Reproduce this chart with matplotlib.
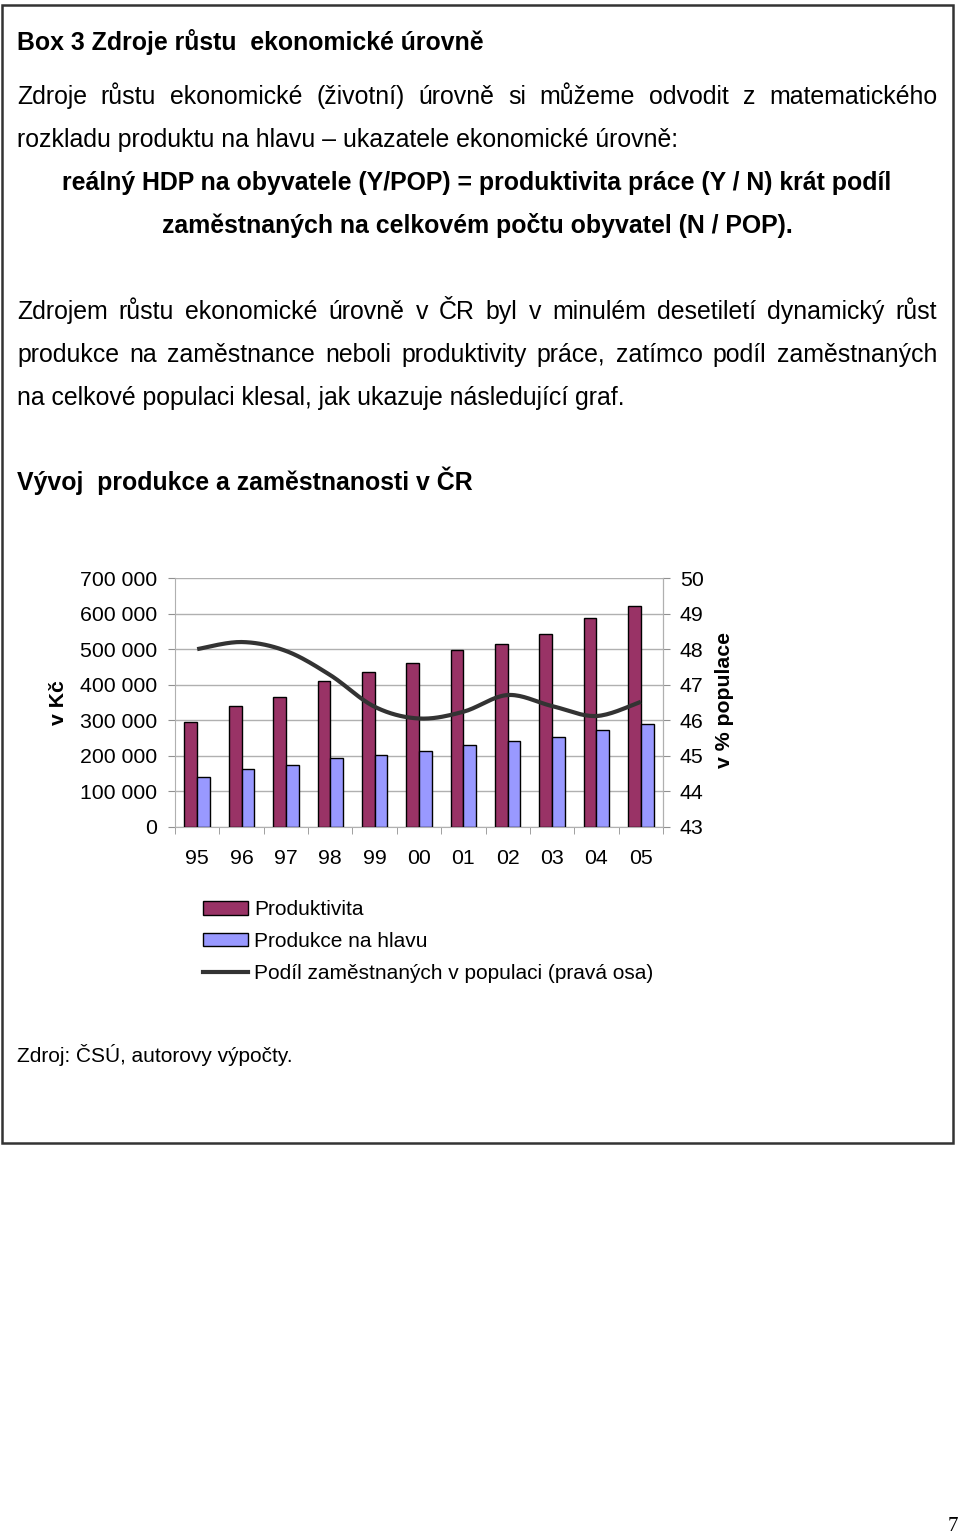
import numpy as np
import matplotlib
matplotlib.use('Agg')
import matplotlib.pyplot as plt
from matplotlib.patches import Rectangle, Patch
from matplotlib.lines import Line2D

plt.rcParams['font.family'] = ['Liberation Sans', 'DejaVu Sans']

# data
years = ['95', '96', '97', '98', '99', '00', '01', '02', '03', '04', '05']
produktivita = [295000, 339000, 366000, 410000, 435000, 460000, 497000, 515000, 543000, 588000, 622000]
produkce_na_hlavu = [141000, 162000, 175000, 194000, 202000, 213000, 230000, 242000, 253000, 272000, 290000]
podil_zamestnanych = [48.0, 48.2, 47.95, 47.27, 46.38, 46.05, 46.24, 46.71, 46.40, 46.12, 46.52]
left_ticks = [0, 100000, 200000, 300000, 400000, 500000, 600000, 700000]
right_ticks = [43, 44, 45, 46, 47, 48, 49, 50]

W, H = 960, 1534
fig = plt.figure(figsize=(W / 100, H / 100), dpi=100)


def fx(x):
    return x / W


def fy(y):
    return 1 - y / H


'''
justify(): place words of one line so that they fill x0..x1
'''


def justify(text, x0, x1, y, **kw):
    words = text.split()
    r = fig.canvas.get_renderer()
    objs = [fig.text(0, fy(y), w, va='baseline', ha='left', **kw) for w in words]
    widths = [o.get_window_extent(r).width for o in objs]
    gap = (x1 - x0 - sum(widths)) / (len(words) - 1)
    x = x0
    for o, w in zip(objs, widths):
        o.set_x(fx(x))
        x += w + gap


# box border
fig.patches.append(Rectangle((fx(2), fy(1143)), fx(951), 1138 / H, transform=fig.transFigure,
                             fill=False, edgecolor='#333333', linewidth=1.8))

fs = 17.9
fig.text(fx(17), fy(50), 'Box 3 Zdroje růstu  ekonomické úrovně', fontsize=fs, fontweight='bold', va='baseline')
justify('Zdroje růstu ekonomické (životní) úrovně si můžeme odvodit z matematického', 17, 937, 104, fontsize=fs)
fig.text(fx(17), fy(147), 'rozkladu produktu na hlavu – ukazatele ekonomické úrovně:', fontsize=fs, va='baseline')
fig.text(fx(477), fy(190), 'reálný HDP na obyvatele (Y/POP) = produktivita práce (Y / N) krát podíl',
         fontsize=fs, fontweight='bold', ha='center', va='baseline')
fig.text(fx(477), fy(233), 'zaměstnaných na celkovém počtu obyvatel (N / POP).',
         fontsize=fs, fontweight='bold', ha='center', va='baseline')
justify('Zdrojem růstu ekonomické úrovně v ČR byl v minulém desetiletí dynamický růst', 17, 937, 319, fontsize=fs)
justify('produkce na zaměstnance neboli produktivity práce, zatímco podíl zaměstnaných', 17, 937, 362, fontsize=fs)
fig.text(fx(17), fy(405), 'na celkové populaci klesal, jak ukazuje následující graf.', fontsize=fs, va='baseline')
fig.text(fx(17), fy(490), 'Vývoj  produkce a zaměstnanosti v ČR', fontsize=fs, fontweight='bold', va='baseline')

# chart
tfs = 15.3
ax = fig.add_axes([fx(175), fy(827), fx(663 - 175), (827 - 578) / H])
x = np.arange(len(years))
bw = 0.286
ax.bar(x - bw / 2, produktivita, bw, color='#993366', edgecolor='black', linewidth=1, zorder=3)
ax.bar(x + bw / 2, produkce_na_hlavu, bw, color='#9999FF', edgecolor='black', linewidth=1, zorder=3)
ax.set_xlim(-0.5, len(years) - 0.5)
ax.set_ylim(0, 700000)
ax.set_yticks(left_ticks)
ax.set_yticklabels([f'{v:,}'.replace(',', ' ') for v in left_ticks])
ax.grid(axis='y', color='#b0b0b0', linewidth=1, zorder=0)
ax.set_xticks(x)
ax.set_xticklabels(years)
ax.set_xticks(np.arange(len(years) + 1) - 0.5, minor=True)
ax.tick_params(axis='x', which='major', length=0, pad=15.5, labelsize=tfs)
ax.tick_params(axis='x', which='minor', length=5, color='#909090')
ax.tick_params(axis='y', length=5, color='#909090', pad=8, labelsize=tfs)
ax.spines['top'].set_visible(False)
for s in ['left', 'bottom', 'right']:
    ax.spines[s].set_color('#b0b0b0')

ax2 = ax.twinx()
ax2.set_ylim(43, 50)
ax2.set_yticks(right_ticks)
ax2.tick_params(axis='y', length=5, color='#909090', pad=7, labelsize=tfs)
for s in ['top', 'left', 'bottom']:
    ax2.spines[s].set_visible(False)
ax2.spines['right'].set_color('#b0b0b0')

fig.text(fx(58), fy(703), 'v Kč', fontsize=tfs, fontweight='bold', rotation=90, ha='center', va='center')
fig.text(fx(725), fy(700), 'v % populace', fontsize=tfs, fontweight='bold', rotation=90, ha='center', va='center')

# smoothed line (Catmull-Rom through the points, like Excel's smoothing)
P = np.column_stack([np.array(x, dtype=float), np.array(podil_zamestnanych)])
P = np.vstack([P[0], P, P[-1]])
cx, cy = [], []
t = np.linspace(0, 1, 20)[:, None]
for i in range(1, len(P) - 2):
    p0, p1, p2, p3 = P[i - 1], P[i], P[i + 1], P[i + 2]
    seg = 0.5 * (2 * p1 + (-p0 + p2) * t
                 + (2 * p0 - 5 * p1 + 4 * p2 - p3) * t ** 2
                 + (-p0 + 3 * p1 - 3 * p2 + p3) * t ** 3)
    cx.extend(seg[:, 0])
    cy.extend(seg[:, 1])
ax2.plot(cx, cy, color='#333333', linewidth=3, solid_capstyle='butt', zorder=4)

# legend
handles = [Patch(facecolor='#993366', edgecolor='black', linewidth=1),
           Patch(facecolor='#9999FF', edgecolor='black', linewidth=1),
           Line2D([], [], color='#333333', linewidth=3)]
labels = ['Produktivita', 'Produkce na hlavu', 'Podíl zaměstnaných v populaci (pravá osa)']
fig.legend(handles, labels, loc='upper left', bbox_to_anchor=(fx(197), fy(894)), frameon=False,
           fontsize=15, handlelength=2.15, handleheight=0.6, handletextpad=0.28, labelspacing=0.62,
           borderaxespad=0, borderpad=0.3)

fig.text(fx(17), fy(1062), 'Zdroj: ČSÚ, autorovy výpočty.', fontsize=15, va='baseline')
fig.text(fx(953), fy(1531), '7', fontsize=15, family='Liberation Serif', ha='center', va='baseline')

fig.savefig('out.png', dpi=100)
